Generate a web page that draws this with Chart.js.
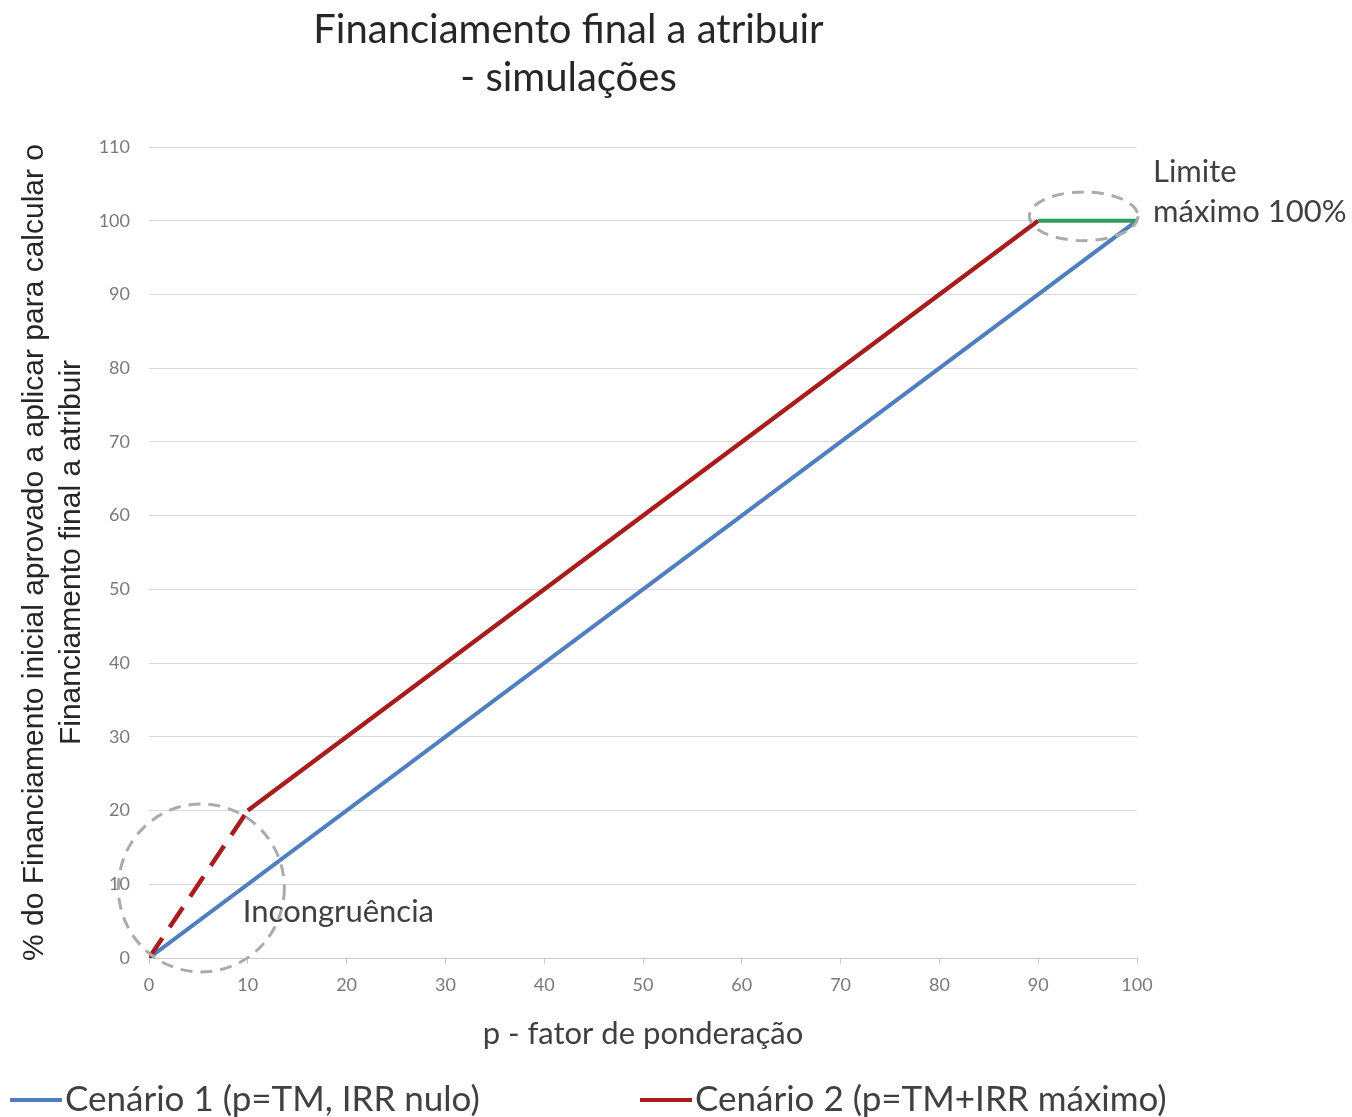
<!DOCTYPE html>
<html><head><meta charset="utf-8">
<script src="https://cdn.jsdelivr.net/npm/chart.js@4.4.1/dist/chart.umd.min.js"></script>
<style>html,body{margin:0;padding:0;background:#fff}</style>
</head><body>
<canvas id="c" width="1352" height="1117"></canvas>
<script>
// ---- data ----
const chartTitle = ['Financiamento final a atribuir', '- simulações'];
const xAxisTitle = 'p - fator de ponderação';
const yAxisTitle = ['% do Financiamento inicial aprovado a aplicar para calcular o', 'Financiamento final a atribuir'];
const seriesNames = ['Cenário 1 (p=TM, IRR nulo)', 'Cenário 2 (p=TM+IRR máximo)', 'Limite'];
const cenario1X = [0, 100];
const cenario1Y = [0, 100];
const cenario2X = [0, 10, 90];
const cenario2Y = [0, 20, 100];
const limiteX = [90, 100];
const limiteY = [100, 100];
const xMin = 0, xMax = 100, xStep = 10;
const yMin = 0, yMax = 110, yStep = 10;
// annotations in data units
const ellipseCx = [5.3, 94.6];
const ellipseCy = [9.5, 100.6];
const ellipseRx = [8.4, 5.5];
const ellipseRy = [11.4, 3.3];
const noteTexts = [['Incongruência'], ['Limite', 'máximo 100%']];
const noteX = [9.5, 100];
const noteY = [6.2, 103.9];

const pts = (xs, ys) => xs.map((x, i) => ({x: x, y: ys[i]}));
const FONT = 'Lato, "Open Sans", sans-serif';

const annotationPlugin = {
  id: 'notes',
  afterDatasetsDraw(chart) {
    const {ctx, scales: {x, y}} = chart;
    ctx.save();
    ctx.strokeStyle = '#ababab';
    ctx.lineWidth = 3;
    ctx.setLineDash([12, 8]);
    for (let i = 0; i < ellipseCx.length; i++) {
      const cx = x.getPixelForValue(ellipseCx[i]);
      const cy = y.getPixelForValue(ellipseCy[i]);
      const rx = Math.abs(x.getPixelForValue(ellipseCx[i] + ellipseRx[i]) - cx);
      const ry = Math.abs(y.getPixelForValue(ellipseCy[i] + ellipseRy[i]) - cy);
      ctx.beginPath();
      ctx.ellipse(cx, cy, rx, ry, 0, 0, Math.PI * 2);
      ctx.stroke();
    }
    ctx.setLineDash([]);
    ctx.fillStyle = '#404040';
    ctx.font = '31px ' + FONT;
    ctx.textBaseline = 'middle';
    ctx.textAlign = 'left';
    for (let i = 0; i < noteTexts.length; i++) {
      const px = x.getPixelForValue(noteX[i]) + (i === 1 ? 16 : 0);
      const py = y.getPixelForValue(noteY[i]);
      const lines = noteTexts[i];
      const lh = 40;
      lines.forEach((t, k) => {
        ctx.fillText(t, px, py + (k - (lines.length - 1) / 2) * lh);
      });
    }
    ctx.restore();
  }
};

const legendPlugin = {
  id: 'bottomLegend',
  afterDraw(chart) {
    const {ctx} = chart;
    const ds = chart.data.datasets.slice(0, 2);
    const starts = [10, 640];
    const yc = 1100;
    ctx.save();
    ctx.font = '35px ' + FONT;
    ctx.textBaseline = 'middle';
    ctx.textAlign = 'left';
    ds.forEach((d, i) => {
      ctx.strokeStyle = d.borderColor;
      ctx.lineWidth = 4;
      ctx.beginPath();
      ctx.moveTo(starts[i], yc);
      ctx.lineTo(starts[i] + 52, yc);
      ctx.stroke();
      ctx.fillStyle = '#404040';
      ctx.fillText(d.label, starts[i] + 55, yc);
    });
    ctx.restore();
  }
};

new Chart(document.getElementById('c'), {
  type: 'line',
  data: {
    datasets: [
      {label: seriesNames[0], data: pts(cenario1X, cenario1Y), borderColor: '#4F7FBF', borderWidth: 4, pointRadius: 0, tension: 0, order: 3},
      {label: seriesNames[1], data: pts(cenario2X, cenario2Y), borderColor: '#A81C1C', borderWidth: 4.5, pointRadius: 0, tension: 0, order: 2,
        segment: {borderDash: c => c.p0DataIndex === 0 ? [24, 13] : undefined}},
      {label: seriesNames[2], data: pts(limiteX, limiteY), borderColor: '#2E9E5E', borderWidth: 4, pointRadius: 0, tension: 0, order: 1}
    ]
  },
  options: {
    responsive: false,
    animation: false,
    devicePixelRatio: 1,
    layout: {padding: {left: 0, right: 215, top: 0, bottom: 60}},
    plugins: {
      legend: {display: false},
      tooltip: {enabled: false},
      title: {display: true, text: chartTitle, color: '#262626',
        font: {family: FONT, size: 40, weight: 'normal', lineHeight: 1.2},
        padding: {top: 6, bottom: 45}}
    },
    scales: {
      x: {
        type: 'linear', min: xMin, max: xMax,
        ticks: {stepSize: xStep, color: '#7a7a7a', font: {family: FONT, size: 18}, padding: 10, maxRotation: 0},
        grid: {drawOnChartArea: false, drawTicks: true, tickLength: 6, color: '#c8c8c8'},
        border: {display: true, color: '#c8c8c8', width: 1},
        title: {display: true, text: xAxisTitle, color: '#404040', font: {family: FONT, size: 31, lineHeight: 1.2}, padding: {top: 0, bottom: 4}},
        afterFit: s => { s.height = 99; }
      },
      y: {
        type: 'linear', min: yMin, max: yMax,
        ticks: {stepSize: yStep, color: '#7a7a7a', font: {family: FONT, size: 18}, padding: 19},
        grid: {color: '#d9d9d9', drawTicks: false},
        border: {display: false},
        title: {display: true, text: yAxisTitle, color: '#262626', font: {family: '"Liberation Sans", Arial, sans-serif', size: 30, lineHeight: 1.23}, padding: {top: 16, bottom: 0}},
        afterFit: s => { s.width = 149; }
      }
    }
  },
  plugins: [annotationPlugin, legendPlugin]
});
</script>
</body></html>
